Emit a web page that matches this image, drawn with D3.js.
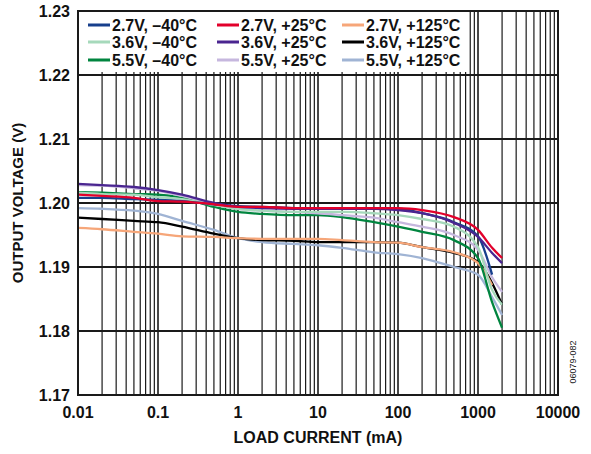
<!DOCTYPE html>
<html>
<head>
<meta charset="utf-8">
<script src="https://cdn.jsdelivr.net/npm/d3@7"></script>
<style>
  body { margin: 0; background: #fff; }
  text { font-family: "Liberation Sans", Arial, sans-serif; }
</style>
</head>
<body>
<div id="figure"></div>
<script>
'use strict';

// load current (mA) sample points
const current = [0.01, 0.02, 0.05, 0.1, 0.2, 0.5, 1, 2, 5, 10, 20, 50, 100, 200, 500, 1000, 1500, 2000];

// output voltage (V) per curve
const v27m40 = [1.2008, 1.2008, 1.2006, 1.2005, 1.2003, 1.1998, 1.1995, 1.1994, 1.1992, 1.1991, 1.1991, 1.1991, 1.1991, 1.1984, 1.1970, 1.1948, 1.1888];
const v27p25 = [1.2013, 1.2011, 1.2008, 1.2003, 1.2002, 1.1998, 1.1994, 1.1994, 1.1992, 1.1992, 1.1992, 1.1992, 1.1992, 1.1989, 1.1978, 1.1958, 1.1930, 1.1914];
const v27p125 = [1.1961, 1.1959, 1.1955, 1.1952, 1.1948, 1.1947, 1.1945, 1.1944, 1.1944, 1.1944, 1.1942, 1.1939, 1.1938, 1.1931, 1.1923, 1.1906, 1.1872];
const v36m40 = [1.2016, 1.2014, 1.2013, 1.2009, 1.2006, 1.1997, 1.1991, 1.1988, 1.1986, 1.1986, 1.1986, 1.1984, 1.1981, 1.1975, 1.1963, 1.1931, 1.1864, 1.1841];
const v36p25 = [1.2030, 1.2028, 1.2025, 1.2020, 1.2013, 1.2000, 1.1994, 1.1992, 1.1991, 1.1991, 1.1991, 1.1991, 1.1989, 1.1984, 1.1969, 1.1947, 1.1922, 1.1906];
const v36p125 = [1.1977, 1.1975, 1.1972, 1.1970, 1.1963, 1.1952, 1.1945, 1.1942, 1.1941, 1.1939, 1.1939, 1.1939, 1.1938, 1.1931, 1.1922, 1.1908, 1.1875, 1.1841];
const v55m40 = [1.2017, 1.2016, 1.2014, 1.2013, 1.2008, 1.1994, 1.1986, 1.1983, 1.1981, 1.1981, 1.1978, 1.1970, 1.1963, 1.1955, 1.1942, 1.1914, 1.1845, 1.1805];
const v55p25 = [1.2028, 1.2027, 1.2023, 1.2019, 1.2011, 1.1998, 1.1991, 1.1988, 1.1986, 1.1984, 1.1981, 1.1977, 1.1970, 1.1963, 1.1950, 1.1927, 1.1884, 1.1861];
const v55p125 = [1.1992, 1.1991, 1.1988, 1.1983, 1.1972, 1.1958, 1.1945, 1.1939, 1.1936, 1.1934, 1.1930, 1.1923, 1.1920, 1.1914, 1.1900, 1.1888, 1.1853, 1.1825];

const seriesNames = [
  '2.7V, \u201340\u00b0C', '2.7V, +25\u00b0C', '2.7V, +125\u00b0C',
  '3.6V, \u201340\u00b0C', '3.6V, +25\u00b0C', '3.6V, +125\u00b0C',
  '5.5V, \u201340\u00b0C', '5.5V, +25\u00b0C', '5.5V, +125\u00b0C'
];
const seriesValues = [v27m40, v27p25, v27p125, v36m40, v36p25, v36p125, v55m40, v55p25, v55p125];
const seriesColors = ['#173f8c', '#e2002b', '#f6a679', '#a6d9bb', '#4a2590', '#000000', '#00853f', '#c6b7de', '#a0b4d4'];
// drawing order (bottom to top)
const drawOrder = [8, 5, 2, 6, 7, 3, 0, 4, 1];

const yTicks = [1.17, 1.18, 1.19, 1.20, 1.21, 1.22, 1.23];
const xTicks = [0.01, 0.1, 1, 10, 100, 1000, 10000];
const xTickLabels = ['0.01', '0.1', '1', '10', '100', '1000', '10000'];

const W = 591, H = 454;
const margin = { left: 78, top: 11, right: 33, bottom: 59 };
const width = W - margin.left - margin.right;
const height = H - margin.top - margin.bottom;

const x = d3.scaleLog().domain([0.01, 10000]).range([0, width]);
const y = d3.scaleLinear().domain([1.17, 1.23]).range([height, 0]);

const root = d3.select('#figure').append('svg')
  .attr('width', W)
  .attr('height', H);

const svg = root.append('g')
  .attr('transform', `translate(${margin.left}, ${margin.top})`);

// grid
const minor = [];
for (let e = -2; e < 4; e++) {
  for (let k = 2; k <= 9; k++) minor.push(k * Math.pow(10, e));
}

svg.append('g')
  .selectAll('line')
  .data(minor)
  .join('line')
  .attr('x1', d => x(d)).attr('x2', d => x(d))
  .attr('y1', 0).attr('y2', height)
  .attr('stroke', '#1a1a1a')
  .attr('stroke-width', 1.2);

svg.append('g')
  .selectAll('line')
  .data(xTicks)
  .join('line')
  .attr('x1', d => x(d)).attr('x2', d => x(d))
  .attr('y1', 0).attr('y2', height)
  .attr('stroke', '#1a1a1a')
  .attr('stroke-width', 1.6);

svg.append('g')
  .selectAll('line')
  .data(yTicks)
  .join('line')
  .attr('x1', 0).attr('x2', width)
  .attr('y1', d => y(d)).attr('y2', d => y(d))
  .attr('stroke', '#1a1a1a')
  .attr('stroke-width', 1.8);

// legend background
svg.append('rect')
  .attr('x', 0)
  .attr('y', 0)
  .attr('width', x(750))
  .attr('height', y(1.22) - 3)
  .attr('fill', '#fff');

// curves
const line = d3.line()
  .curve(d3.curveMonotoneX)
  .x(d => x(d[0]))
  .y(d => y(d[1]));

for (const i of drawOrder) {
  svg.append('path')
    .datum(d3.zip(current, seriesValues[i]))
    .attr('fill', 'none')
    .attr('stroke', seriesColors[i])
    .attr('stroke-width', 2.3)
    .attr('stroke-linejoin', 'round')
    .attr('d', line);
}

// frame
svg.append('rect')
  .attr('width', width)
  .attr('height', height)
  .attr('fill', 'none')
  .attr('stroke', '#1a1a1a')
  .attr('stroke-width', 2);

// legend
const legendCols = [10, 139, 264];
const legendRows = [14, 31, 49];
seriesNames.forEach((name, i) => {
  const cx = legendCols[i % 3];
  const cy = legendRows[Math.floor(i / 3)];
  svg.append('line')
    .attr('x1', cx).attr('x2', cx + 22)
    .attr('y1', cy).attr('y2', cy)
    .attr('stroke', seriesColors[i])
    .attr('stroke-width', 3);
  svg.append('text')
    .attr('x', cx + 24)
    .attr('y', cy)
    .attr('dy', '0.36em')
    .attr('font-size', 16)
    .attr('font-weight', 'bold')
    .attr('fill', '#111')
    .text(name);
});

// y tick labels
svg.append('g')
  .selectAll('text')
  .data(yTicks)
  .join('text')
  .attr('x', -8)
  .attr('y', d => y(d))
  .attr('dy', '0.36em')
  .attr('text-anchor', 'end')
  .attr('font-size', 16)
  .attr('font-weight', 'bold')
  .attr('fill', '#111')
  .text(d => d3.format('.2f')(d));

// x tick labels
svg.append('g')
  .selectAll('text')
  .data(xTicks)
  .join('text')
  .attr('x', d => x(d))
  .attr('y', height + 17)
  .attr('dy', '0.36em')
  .attr('text-anchor', 'middle')
  .attr('font-size', 16)
  .attr('font-weight', 'bold')
  .attr('fill', '#111')
  .text((d, i) => xTickLabels[i]);

// axis titles
root.append('text')
  .attr('x', margin.left + width / 2)
  .attr('y', 443)
  .attr('text-anchor', 'middle')
  .attr('font-size', 16)
  .attr('font-weight', 'bold')
  .attr('fill', '#111')
  .text('LOAD CURRENT (mA)');

root.append('text')
  .attr('transform', `translate(23, ${margin.top + height / 2}) rotate(-90)`)
  .attr('text-anchor', 'middle')
  .attr('font-size', 15)
  .attr('font-weight', 'bold')
  .attr('fill', '#111')
  .text('OUTPUT VOLTAGE (V)');

root.append('text')
  .attr('transform', 'translate(576, 362) rotate(-90)')
  .attr('text-anchor', 'middle')
  .attr('font-size', 9)
  .attr('fill', '#222')
  .text('06079-082');
</script>
</body>
</html>
